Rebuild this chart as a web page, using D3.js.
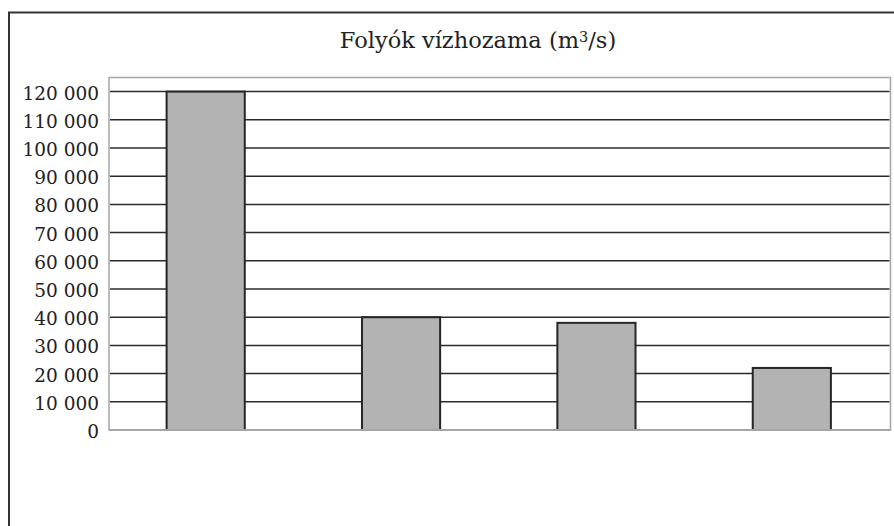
<!DOCTYPE html>
<html>
<head>
<meta charset="utf-8">
<script src="https://cdn.jsdelivr.net/npm/d3@7"></script>
<style>
  html, body { margin: 0; padding: 0; background: #fff; }
  svg { display: block; }
</style>
</head>
<body>
<svg id="chart" width="894" height="526"></svg>
<script>
// River discharge, m³/s
const rivers = ["A", "B", "C", "D"];
const discharge = [120000, 40000, 38000, 22000];
const tickValues = [0, 10000, 20000, 30000, 40000, 50000, 60000, 70000, 80000, 90000, 100000, 110000, 120000];
const titleText = "Folyók vízhozama (m";
const titleSup = "3";
const titleEnd = "/s)";

const svg = d3.select("#chart");
const W = 894, H = 526;
const plot = { left: 109, right: 890.5, top: 77.5, bottom: 430 };
const fontFamily = "'DejaVu Serif', 'Liberation Serif', serif";

// Outer frame (top and left edges only inside the view)
svg.append("path")
  .attr("d", `M9,${H + 2} L9,12.5 L${W + 2},12.5`)
  .attr("fill", "none")
  .attr("stroke", "#333")
  .attr("stroke-width", 2);

// Title
const title = svg.append("text")
  .attr("x", 478)
  .attr("y", 48)
  .attr("text-anchor", "middle")
  .attr("font-family", fontFamily)
  .attr("font-size", 22.5)
  .attr("fill", "#222");
title.append("tspan").text(titleText);
title.append("tspan").attr("font-size", 14.5).attr("dy", -6).text(titleSup);
title.append("tspan").attr("dy", 6).text(titleEnd);

const x = d3.scaleBand()
  .domain(rivers)
  .range([plot.left, plot.right])
  .paddingInner(0.6)
  .paddingOuter(0.3);

const y = d3.scaleLinear()
  .domain([0, 125000])
  .range([plot.bottom, plot.top]);

// Plot area background + frame
svg.append("rect")
  .attr("x", plot.left)
  .attr("y", plot.top)
  .attr("width", plot.right - plot.left)
  .attr("height", plot.bottom - plot.top)
  .attr("fill", "#fff")
  .attr("stroke", "#a3a6a9")
  .attr("stroke-width", 1.5);

// Horizontal gridlines
svg.append("g")
  .selectAll("line")
  .data(tickValues.filter(v => v > 0))
  .join("line")
  .attr("x1", plot.left + 1)
  .attr("x2", plot.right - 1)
  .attr("y1", d => y(d))
  .attr("y2", d => y(d))
  .attr("stroke", "#2b2b2b")
  .attr("stroke-width", 1.5);

// Y axis labels
const fmt = v => d3.format(",")(v).replace(/,/g, " ");
const yAxis = d3.axisLeft(y)
  .tickValues(tickValues)
  .tickFormat(fmt)
  .tickSize(0)
  .tickPadding(10);
const yg = svg.append("g")
  .attr("transform", `translate(${plot.left},0)`)
  .call(yAxis);
yg.select(".domain").remove();
yg.selectAll("text")
  .attr("font-family", fontFamily)
  .attr("font-size", 18.5)
  .attr("fill", "#222")
  .attr("dy", "0.4em");

// Bars
svg.append("g")
  .selectAll("rect")
  .data(discharge)
  .join("rect")
  .attr("x", (d, i) => x(rivers[i]) - 1)
  .attr("y", d => y(d))
  .attr("width", x.bandwidth())
  .attr("height", d => y(0) - y(d))
  .attr("fill", "#b3b3b3")
  .attr("stroke", "#262626")
  .attr("stroke-width", 2);

// Baseline
svg.append("line")
  .attr("x1", plot.left)
  .attr("x2", plot.right)
  .attr("y1", y(0))
  .attr("y2", y(0))
  .attr("stroke", "#a3a6a9")
  .attr("stroke-width", 2);
</script>
</body>
</html>
